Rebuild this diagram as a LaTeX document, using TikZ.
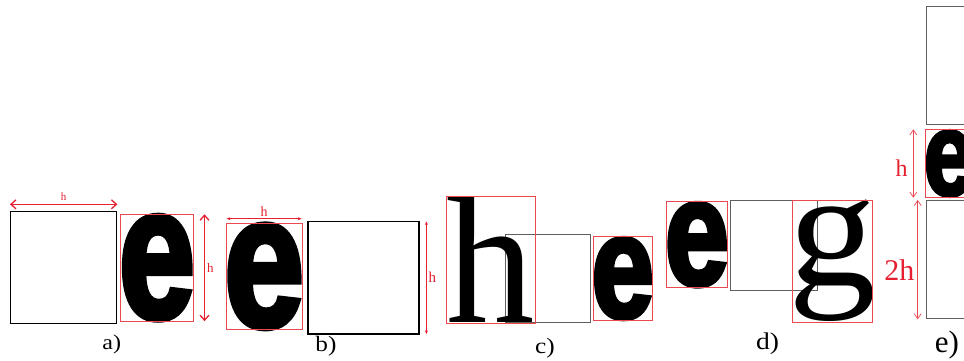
\documentclass[tikz,border=0pt]{standalone}
\usepackage{graphicx}
\usepackage{fontspec}
\setmainfont{Liberation Serif}
\newfontfamily\efont[BoldFeatures={FakeBold=3.5}]{Liberation Sans}
\usetikzlibrary{arrows.meta}
\definecolor{boxred}{RGB}{236,72,82}
\definecolor{dimred}{RGB}{230,32,48}
\definecolor{spacegray}{RGB}{95,95,95}
% heavy e and serif letters, squeezed into their boxes
\newcommand{\eglyph}[2]{\resizebox*{#1}{#2}{\efont\bfseries e}}
\newcommand{\serifglyph}[3]{\resizebox*{#1}{#2}{#3}}
\tikzset{
  glyphbox/.style={inner ysep=1.5pt, inner xsep=-2pt, anchor=north west},
  serifbox/.style={inner sep=0pt, anchor=north west},
  redframe/.style={draw=boxred, line width=0.9pt},
  spacebox/.style={draw=black, line width=1.4pt, inner sep=0pt, anchor=north west},
  grayspace/.style={draw=spacegray, line width=1pt, inner sep=0pt, anchor=north west},
  dimthick/.style={dimred, line width=1.3pt, {Straight Barb[length=5pt,width=9pt]}-{Straight Barb[length=5pt,width=9pt]}},
  dimthin/.style={dimred, line width=0.8pt, {Latex[length=4pt,width=3pt]}-{Latex[length=4pt,width=3pt]}},
  dimlight/.style={boxred, line width=0.7pt, {Straight Barb[length=5pt,width=7pt]}-{Straight Barb[length=5pt,width=7pt]}},
  caption/.style={font=\fontsize{#1}{#1}\selectfont, xscale=1.15},
  dimlabel/.style={text=dimred, font=\fontsize{#1}{#1}\selectfont},
}
\begin{document}
\begin{tikzpicture}[x=1pt, y=-1pt]
  \clip (0,0) rectangle (964,360);
  \fill[white] (0,0) rectangle (964,360);
  % a)
  \node[spacebox, minimum width=106pt, minimum height=112pt] (spaceA) at (10,211) {};
  \node[glyphbox] (glyphA) at (120.7,214.3) {\eglyph{76pt}{103.4pt}};
  \draw[redframe] (glyphA.north west) rectangle (glyphA.south east);
  \draw[dimthick] ([yshift=6.7pt]spaceA.north west) -- ([yshift=6.7pt]spaceA.north east)
    node[midway, yshift=8pt, dimlabel=11pt] {h};
  \draw[dimthick] ([xshift=11.3pt]glyphA.north east) -- ([xshift=11.3pt]glyphA.south east)
    node[midway, xshift=6pt, dimlabel=13pt] {h};
  \node[caption=21pt] (capA) at (111.7,344.5) {a)};
  % b)
  \node[glyphbox] (glyphB) at (226,223) {\eglyph{79.7pt}{103.3pt}};
  \draw[redframe] (glyphB.north west) rectangle (glyphB.south east);
  \node[spacebox, minimum width=111pt, minimum height=112.6pt] (spaceB) at (307.3,220.7) {};
  \draw[dimthin] ([yshift=4.3pt]glyphB.north west) -- ([yshift=4.3pt]glyphB.north east)
    node[midway, yshift=7pt, dimlabel=14pt] {h};
  \draw[dimthin] ([xshift=6.7pt]spaceB.north east) -- ([xshift=6.7pt]spaceB.south east)
    node[midway, xshift=6pt, dimlabel=15pt] {h};
  \node[caption=22pt] (capB) at (326,346.7) {b)};
  % c)
  \node[grayspace, minimum width=85pt, minimum height=87.4pt] (spaceC) at (505,234.3) {};
  \node[serifbox] (glyphC1) at (446.7,196.7) {\serifglyph{88.3pt}{126pt}{h}};
  \draw[redframe] (glyphC1.north west) rectangle (glyphC1.south east);
  \node[glyphbox] (glyphC2) at (593.3,236.7) {\eglyph{62.4pt}{80.3pt}};
  \draw[redframe] (glyphC2.north west) rectangle (glyphC2.south east);
  \node[caption=22pt] (capC) at (545,348) {c)};
  % d)
  \node[grayspace, minimum width=87.3pt, minimum height=90pt] (spaceD) at (730,200) {};
  \node[glyphbox] (glyphD1) at (666.7,201.7) {\eglyph{64pt}{82.6pt}};
  \draw[redframe] (glyphD1.north west) rectangle (glyphD1.south east);
  \node[serifbox, inner xsep=-4pt] (glyphD2) at (792.3,200) {\serifglyph{88pt}{121.7pt}{g}};
  \draw[redframe] (glyphD2.north west) rectangle (glyphD2.south east);
  \node[caption=24pt] (capD) at (767.5,344) {d)};
  % e)
  \node[grayspace, minimum width=118pt, minimum height=118pt] (spaceE1) at (925.7,6) {};
  \node[glyphbox] (glyphE) at (925.7,129.3) {\eglyph{50pt}{65pt}};
  \draw[redframe] (glyphE.north west) rectangle (glyphE.south east);
  \node[grayspace, minimum width=118pt, minimum height=118.3pt] (spaceE2) at (925.7,200) {};
  \draw[dimlight] ([xshift=-12.4pt]glyphE.north west) -- ([xshift=-12.4pt]glyphE.south west)
    node[midway, xshift=-11.6pt, yshift=-5pt, dimlabel=24pt] {h};
  \draw[dimlight] ([xshift=-8pt]spaceE2.north west) -- ([xshift=-8pt]spaceE2.south west)
    node[midway, xshift=-18.4pt, yshift=-10pt, dimlabel=30pt] {2h};
  \node[font=\fontsize{31pt}{31pt}\selectfont] (capE) at (947,345) {e)};
\end{tikzpicture}
\end{document}
